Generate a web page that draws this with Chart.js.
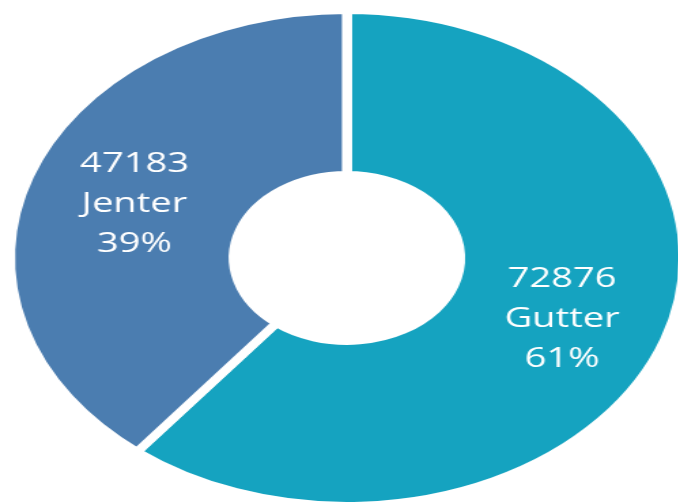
<!DOCTYPE html>
<html>
<head>
<meta charset="utf-8">
<script src="https://cdn.jsdelivr.net/npm/chart.js@4.4.1/dist/chart.umd.min.js"></script>
<style>
  html, body { margin: 0; padding: 0; background: #fff; overflow: hidden; width: 678px; height: 503px; }
  /* the reference is a stretched circle, so the whole chart is scaled sideways */
  #wrap { position: absolute; left: 0; top: 0; width: 520px; height: 520px; transform-origin: 0 0; transform: scaleX(1.36); }
</style>
</head>
<body>
<div id="wrap"><canvas id="chart" width="520" height="520"></canvas></div>
<script>
const categories = ["Gutter", "Jenter"];
const counts = [72876, 47183];
const sliceColors = ["#15a3c0", "#4b7db0"];

const total = counts.reduce((a, b) => a + b, 0);

// white three-line label in the middle of each slice
const sliceLabels = {
  id: "sliceLabels",
  afterDatasetsDraw(chart) {
    const ctx = chart.ctx;
    const meta = chart.getDatasetMeta(0);
    const nudge = [[2, 6], [0, 1]];
    ctx.save();
    ctx.fillStyle = "#ffffff";
    ctx.font = "28px 'Open Sans', sans-serif";
    ctx.textAlign = "center";
    ctx.textBaseline = "middle";
    meta.data.forEach((arc, i) => {
      const pos = arc.tooltipPosition();
      const pct = Math.round(counts[i] / total * 100) + "%";
      const lines = [String(counts[i]), categories[i], pct];
      const lineHeight = 40;
      lines.forEach((text, j) => {
        ctx.fillText(text, pos.x + nudge[i][0], pos.y + nudge[i][1] + (j - 1) * lineHeight);
      });
    });
    ctx.restore();
  }
};

new Chart(document.getElementById("chart").getContext("2d"), {
  type: "doughnut",
  data: {
    labels: categories,
    datasets: [{
      data: counts,
      backgroundColor: sliceColors,
      borderColor: "#ffffff",
      borderWidth: 7.4,
      borderJoinStyle: "miter",
      hoverOffset: 0
    }]
  },
  options: {
    responsive: false,
    animation: false,
    radius: 247.7,
    cutout: "33.6%",
    layout: { padding: { left: 0, right: 9.8, top: 0, bottom: 4 } },
    plugins: {
      legend: { display: false },
      tooltip: { enabled: false }
    }
  },
  plugins: [sliceLabels]
});
</script>
</body>
</html>
